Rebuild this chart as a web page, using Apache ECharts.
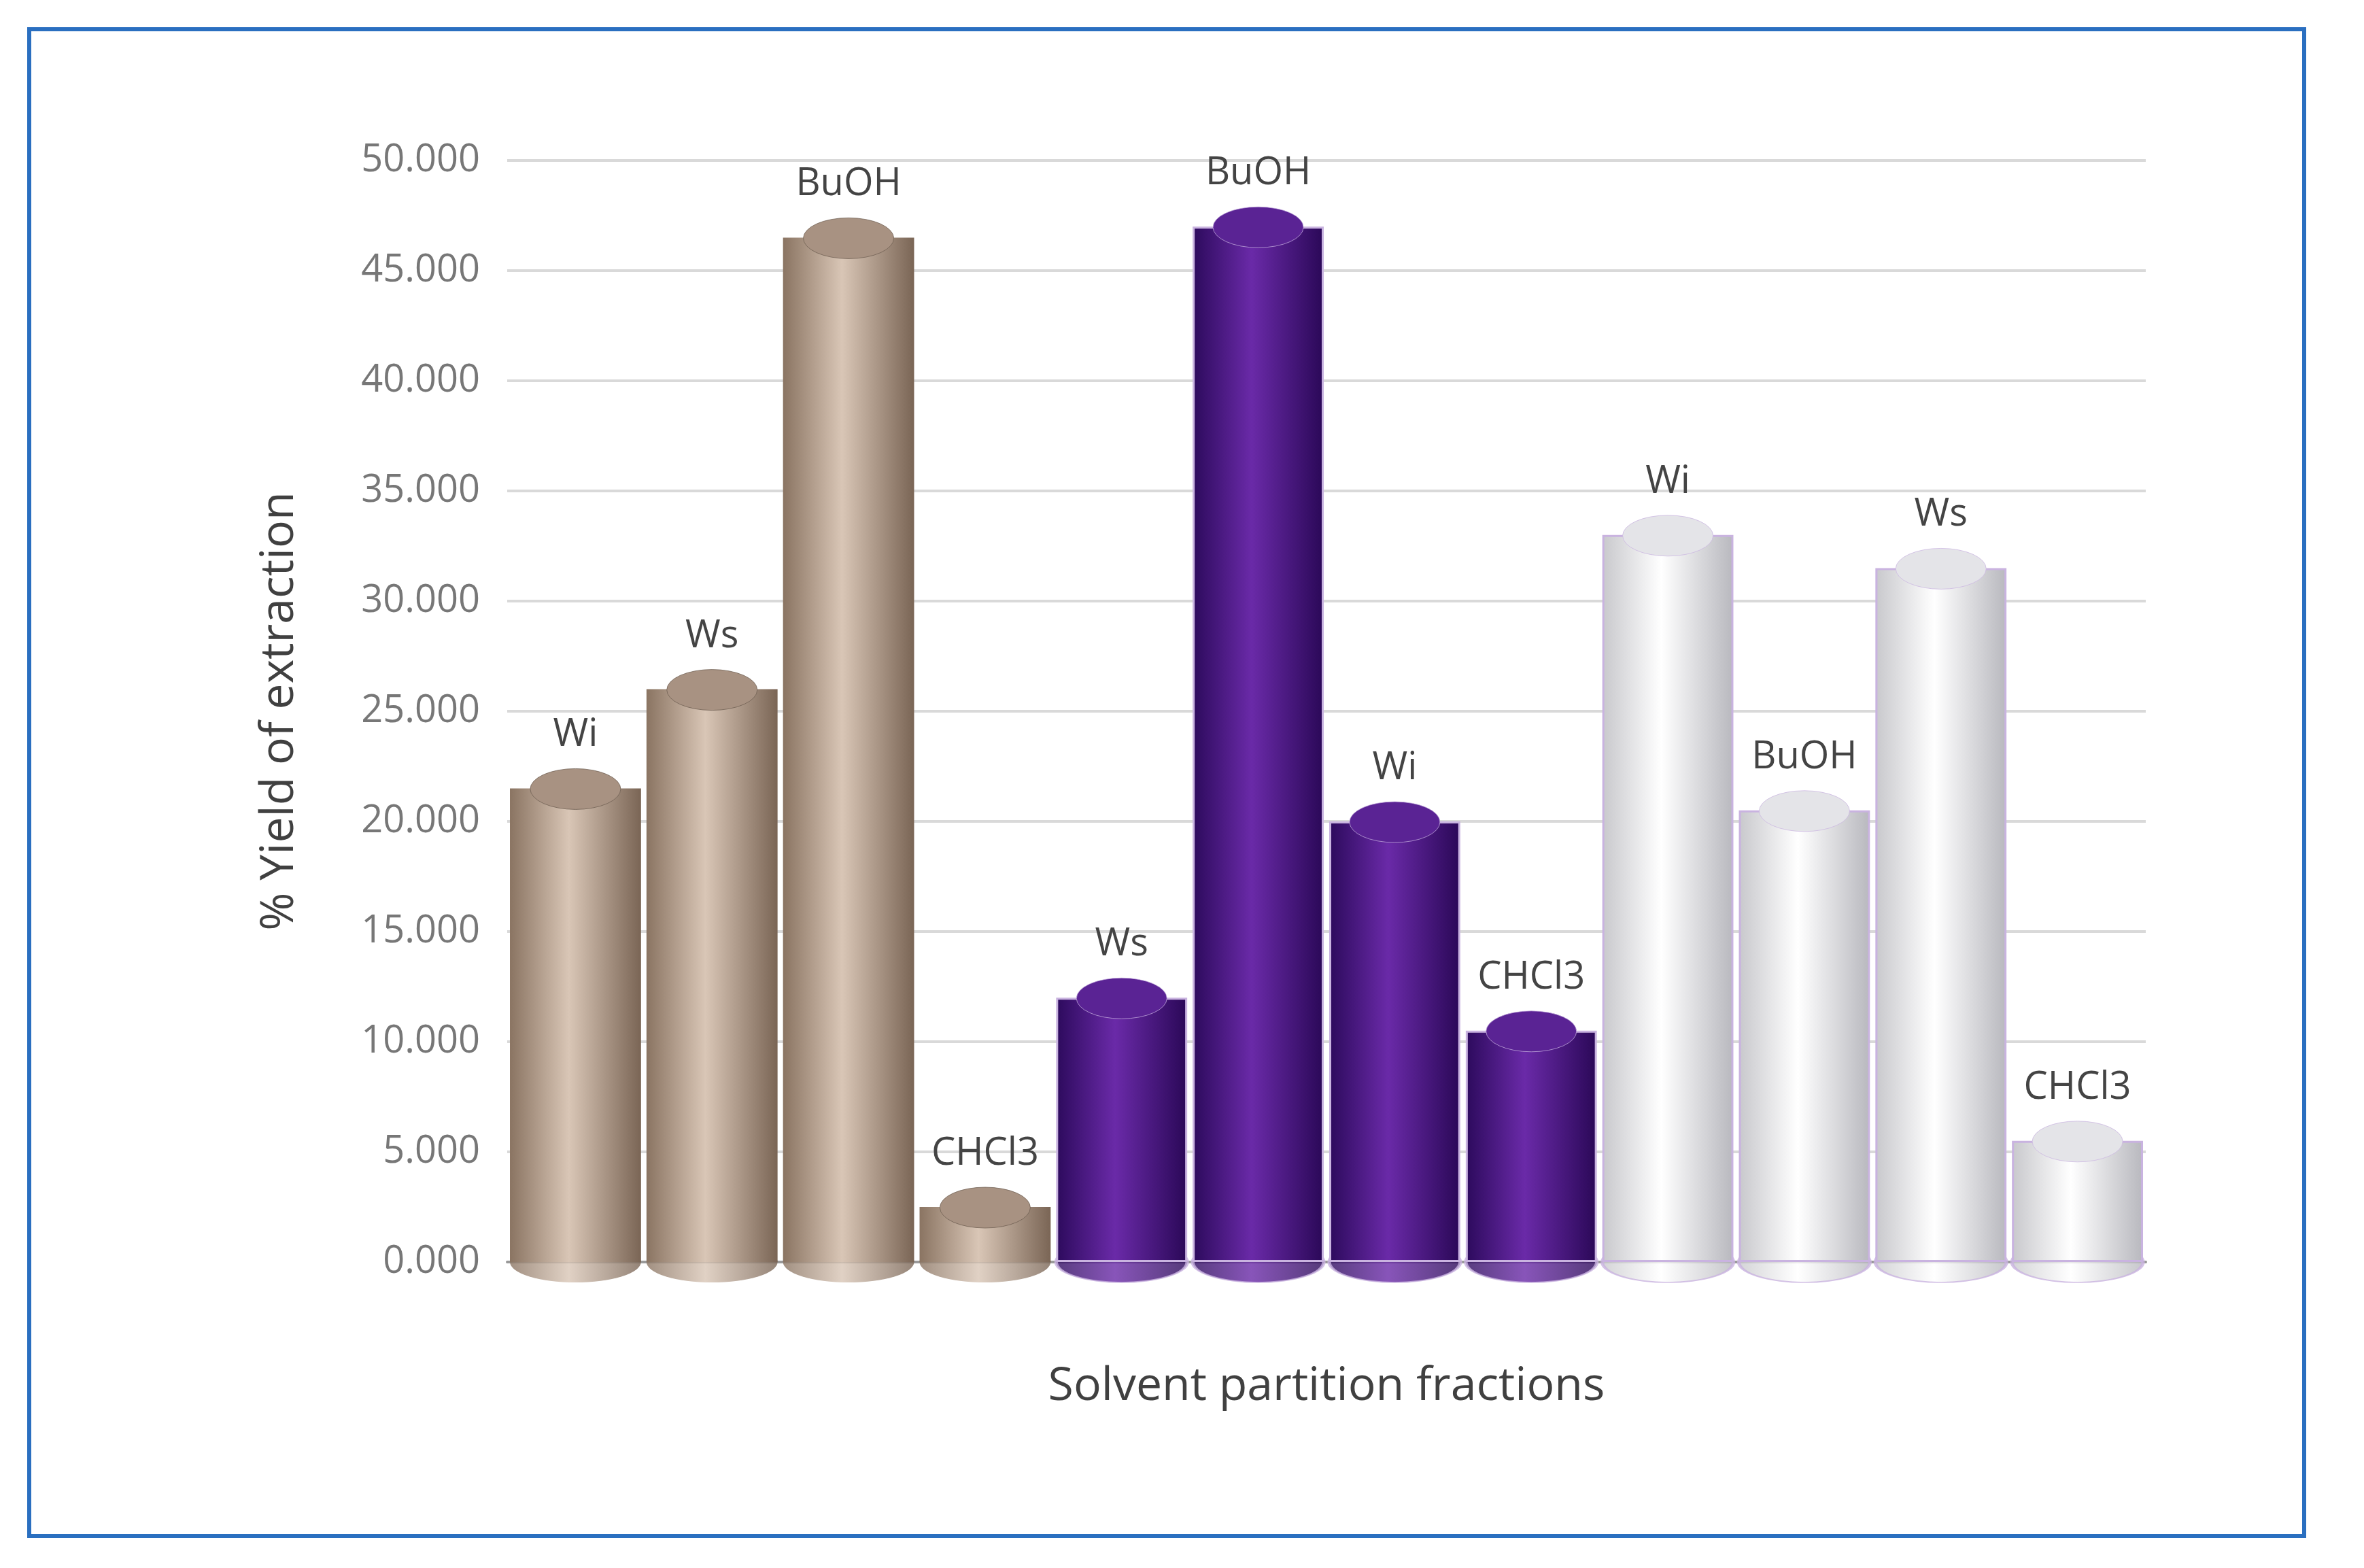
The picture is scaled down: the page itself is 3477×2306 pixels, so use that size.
<!DOCTYPE html>
<html><head><meta charset="utf-8">
<script src="https://cdn.jsdelivr.net/npm/echarts@6/dist/echarts.min.js"></script>
<style>html,body{margin:0;background:#fff}#c{position:absolute;left:40px;top:40px;width:3340px;height:2210px;border:6px solid #2a6fc0}</style>
</head><body><div id="c"></div>
<script>
var labels=['Wi','Ws','BuOH','CHCl3','Ws','BuOH','Wi','CHCl3','Wi','BuOH','Ws','CHCl3'];
var values=[21.5,26,46.5,2.5,12,47,20,10.5,33,20.5,31.5,5.5];
var groups=[0,0,0,0,1,1,1,1,2,2,2,2];

var pal=[['#8a7462','#d9c6b6','#7a6555'],['#2c0a5c','#6a2aa8','#2a0857'],['#c8c8cc','#ffffff','#b8b8be']];
var tops=['#a89282','#5a2394','#e4e4e8'];
function grad(g){return {type:'linear',x:0,y:0,x2:1,y2:0,colorStops:[{offset:0,color:pal[g][0]},{offset:0.45,color:pal[g][1]},{offset:1,color:pal[g][2]}]};}

var gridL=700,gridR=230,chartW=3340;
var bw=(chartW-gridL-gridR)/labels.length*0.96;

var barData=values.map(function(v,i){return {value:v,itemStyle:{color:grad(groups[i]),borderColor:groups[i]?'#c9b3e0':'none',borderWidth:groups[i]?3:0}};});
var topData=values.map(function(v,i){return {value:v,itemStyle:{color:tops[groups[i]],borderColor:groups[i]?'#c9b3e0':'#6a5a4e',borderWidth:3}};});
var botData=values.map(function(v,i){return {value:[i,0],itemStyle:{color:grad(groups[i]),borderColor:groups[i]?'#c9b3e0':'none',borderWidth:groups[i]?3:0}};});

var myChart=echarts.init(document.getElementById('c'));
option={
  grid:{left:gridL,right:gridR,top:190,bottom:400},
  xAxis:{type:'category',data:labels,axisLabel:{show:false},axisTick:{show:false},
    axisLine:{lineStyle:{color:'#999',width:4}},
    name:'Solvent partition fractions',nameLocation:'middle',nameGap:150,
    nameTextStyle:{fontSize:68,color:'#404040',fontFamily:'Open Sans'}},
  yAxis:{type:'value',min:0,max:50,interval:5,
    axisLabel:{formatter:function(v){return v.toFixed(3);},fontSize:56,color:'#777',fontFamily:'Open Sans',margin:40},
    splitLine:{lineStyle:{color:'#d9d9d9',width:4}},axisLine:{show:false},
    name:'% Yield of extraction',nameLocation:'middle',nameGap:300,nameRotate:90,
    nameTextStyle:{fontSize:68,color:'#404040',fontFamily:'Open Sans'}},
  series:[
    {type:'scatter',data:botData,symbol:'circle',symbolSize:[bw,60],z:1,silent:true},
    {type:'bar',data:barData,barWidth:'96%',barGap:'0%',z:2,
     label:{show:true,position:'top',distance:50,fontSize:56,color:'#444',fontFamily:'Open Sans',
       formatter:function(p){return labels[p.dataIndex];}}},
    {type:'pictorialBar',data:topData,symbol:'circle',symbolSize:['96%',60],symbolPosition:'end',symbolOffset:[0,'-50%'],z:3}
  ]
};
option && myChart.setOption(option);
</script></body></html>
